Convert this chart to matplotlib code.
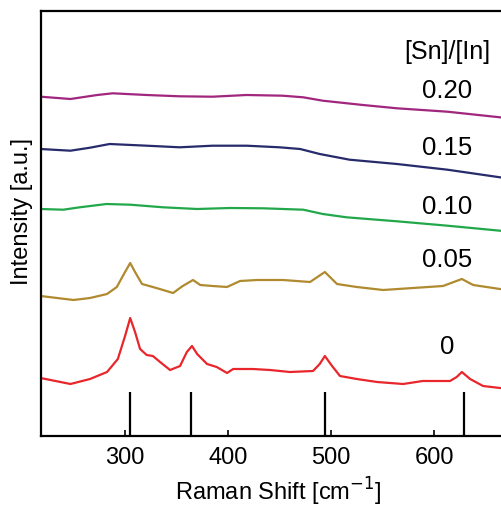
import matplotlib.pyplot as plt

plt.rcParams['font.family'] = ['Liberation Sans', 'DejaVu Sans']

# Raman spectra, offset for each [Sn]/[In] ratio (arbitrary units)
x_0 = [218, 247, 266, 282.5, 293, 300, 305, 309.7, 314.6, 321, 327, 334, 343.7,
       353.4, 360, 365, 370, 379.6, 389, 399, 405, 424, 440.8, 460, 482.5, 489,
       494, 501, 508.7, 525, 544.7, 570, 589, 615.5, 622, 627, 635, 647.6, 664, 679]
y_0 = [58, 52, 57, 64, 77, 100, 118, 104, 87, 81, 80, 74, 66,
       70, 84, 90, 82, 72, 69, 63, 67, 67, 66, 64, 65, 72,
       80, 70, 60, 57, 54, 52, 55, 55, 59, 64, 57, 50, 48, 47]

x_05 = [218, 250, 266, 282.5, 292, 300, 305, 309.7, 316.5, 327, 336.9, 346.6, 356,
        366, 373, 385, 399, 411.7, 428, 441, 453.4, 479.6, 494, 505.8, 525, 550.5,
        579.6, 608.7, 627, 638, 664, 679]
y_05 = [140, 136, 138, 142, 149, 164, 173, 164, 152, 149, 146, 143, 150,
        156, 151, 150, 149, 155, 156, 156, 156, 154, 164, 152, 149, 146,
        148, 150, 157, 151, 147, 146]

x_10 = [218, 240, 256, 282, 305, 337, 370, 402, 434, 473, 492, 515, 564, 613, 664, 679]
y_10 = [227, 226.3, 228.7, 232, 231.3, 228.7, 227, 228, 227.7, 226.3, 222, 218.7,
        214.7, 210.3, 205.3, 204]

x_15 = [218, 247, 266, 285, 321, 353, 385, 418, 450, 470, 489, 518, 564, 613, 664, 679]
y_15 = [287, 285.3, 288.3, 292, 290.3, 288.7, 290.3, 290.3, 288.7, 287, 282, 276.3,
        272, 266.3, 258.7, 256]

x_20 = [218, 247, 273, 288, 321, 353, 385, 418, 453, 473, 492, 531, 564, 613, 664, 679]
y_20 = [339.3, 337, 341, 342.7, 341, 339.7, 339.3, 341, 340.3, 338.7, 335.3, 331,
        327.7, 324.3, 318.7, 317]

ratios = ['0', '0.05', '0.10', '0.15', '0.20']
colors = ['#e8262b', '#b08a2e', '#22a84a', '#272a6b', '#a1267e']
label_y = [90, 177, 230, 289, 346]

# reference peak positions
peaks = [305, 364, 494, 629]
peak_height = 44

fig = plt.figure(figsize=(5.02, 5.10), dpi=100)
ax = fig.add_axes([41 / 502, 73 / 510, 474 / 502, 425 / 510])

series = [(x_0, y_0), (x_05, y_05), (x_10, y_10), (x_15, y_15), (x_20, y_20)]
for (xs, ys), c in zip(series, colors):
    ax.plot(xs, ys, color=c, lw=1.6)

ax.vlines(peaks, 0, peak_height, color='black', lw=1.6)

for r, ly in zip(ratios, label_y):
    ax.text(613, ly, r, fontsize=18.5, ha='center', va='center')
ax.text(613, 385, '[Sn]/[In]', fontsize=18, ha='center', va='center')

ax.set_xlim(218.4, 678.6)
ax.set_ylim(0, 425)
ax.set_xticks([300, 400, 500, 600])
ax.set_yticks([])
ax.tick_params(axis='x', direction='in', length=4, width=1.2, labelsize=17, pad=7)
ax.spines['right'].set_visible(False)
for s in ['left', 'bottom', 'top']:
    ax.spines[s].set_linewidth(1.6)

ax.set_xlabel('Raman Shift [cm$^{-1}$]', fontsize=17, labelpad=5)
ax.set_ylabel('Intensity [a.u.]', fontsize=17)
ax.yaxis.set_label_coords(-0.017, 0.53)

fig.savefig('out.png', dpi=100)
